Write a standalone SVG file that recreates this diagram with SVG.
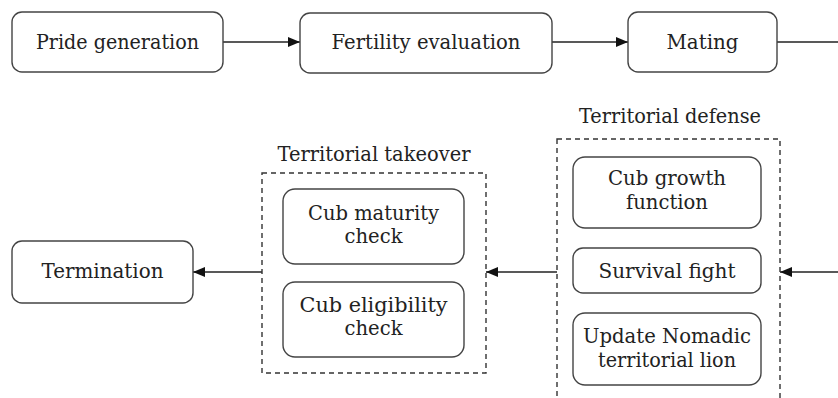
<svg xmlns="http://www.w3.org/2000/svg" width="838" height="398" viewBox="0 0 838 398">
<defs>
<marker id="ah" viewBox="0 0 12 10" refX="12" refY="5" markerWidth="12" markerHeight="10" markerUnits="userSpaceOnUse" orient="auto">
<path d="M0,0 L12,5 L0,10 Z" fill="#111"/>
</marker>
<style>
.n{fill:#fff;stroke:#444;stroke-width:1.4}
.d{fill:none;stroke:#333;stroke-width:1.4;stroke-dasharray:5,4}
.t{font-family:'DejaVu Serif',serif;font-size:21px;fill:#222;text-anchor:middle}
.c{stroke:#222;stroke-width:1.4;fill:none}
</style>
</defs>
<g id="connectors">
<line class="c" x1="223" y1="42" x2="300" y2="42" marker-end="url(#ah)"/>
<line class="c" x1="552" y1="42" x2="628" y2="42" marker-end="url(#ah)"/>
<line class="c" x1="777" y1="42" x2="840" y2="42"/>
<line class="c" x1="840" y1="272" x2="780" y2="272" marker-end="url(#ah)"/>
<line class="c" x1="557" y1="272" x2="486" y2="272" marker-end="url(#ah)"/>
<line class="c" x1="262" y1="272" x2="193" y2="272" marker-end="url(#ah)"/>
</g>
<g id="pride-generation">
<rect class="n" x="12" y="12" width="211" height="60" rx="10"/>
<text class="t" x="117.5" y="49" textLength="163" lengthAdjust="spacingAndGlyphs">Pride generation</text>
</g>
<g id="fertility-evaluation">
<rect class="n" x="300" y="13" width="252" height="60" rx="10"/>
<text class="t" x="426" y="49" textLength="189" lengthAdjust="spacingAndGlyphs">Fertility evaluation</text>
</g>
<g id="mating">
<rect class="n" x="628" y="12" width="149" height="60" rx="10"/>
<text class="t" x="702.5" y="49" textLength="72" lengthAdjust="spacingAndGlyphs">Mating</text>
</g>
<g id="territorial-defense">
<text class="t" x="670" y="123" textLength="182" lengthAdjust="spacingAndGlyphs">Territorial defense</text>
<rect class="d" x="557" y="139" width="223" height="270"/>
</g>
<g id="cub-growth">
<rect class="n" x="573" y="157" width="188" height="71" rx="12"/>
<text class="t" x="667" y="185" textLength="118" lengthAdjust="spacingAndGlyphs">Cub growth</text>
<text class="t" x="667" y="209" textLength="82" lengthAdjust="spacingAndGlyphs">function</text>
</g>
<g id="survival-fight">
<rect class="n" x="573" y="248" width="188" height="45" rx="10"/>
<text class="t" x="667" y="278" textLength="137" lengthAdjust="spacingAndGlyphs">Survival fight</text>
</g>
<g id="update-nomadic">
<rect class="n" x="573" y="313" width="188" height="72" rx="12"/>
<text class="t" x="667" y="343" textLength="168" lengthAdjust="spacingAndGlyphs">Update Nomadic</text>
<text class="t" x="667" y="367" textLength="138" lengthAdjust="spacingAndGlyphs">territorial lion</text>
</g>
<g id="territorial-takeover">
<text class="t" x="374" y="161" textLength="193" lengthAdjust="spacingAndGlyphs">Territorial takeover</text>
<rect class="d" x="262" y="173" width="224" height="200"/>
</g>
<g id="cub-maturity">
<rect class="n" x="283" y="189" width="181" height="75" rx="12"/>
<text class="t" x="373.5" y="220" textLength="131" lengthAdjust="spacingAndGlyphs">Cub maturity</text>
<text class="t" x="373.5" y="243" textLength="58" lengthAdjust="spacingAndGlyphs">check</text>
</g>
<g id="cub-eligibility">
<rect class="n" x="283" y="282" width="181" height="75" rx="12"/>
<text class="t" x="373.5" y="312" textLength="148" lengthAdjust="spacingAndGlyphs">Cub eligibility</text>
<text class="t" x="373.5" y="335" textLength="58" lengthAdjust="spacingAndGlyphs">check</text>
</g>
<g id="termination">
<rect class="n" x="12" y="241" width="181" height="62" rx="10"/>
<text class="t" x="102.5" y="278" textLength="122" lengthAdjust="spacingAndGlyphs">Termination</text>
</g>
</svg>
